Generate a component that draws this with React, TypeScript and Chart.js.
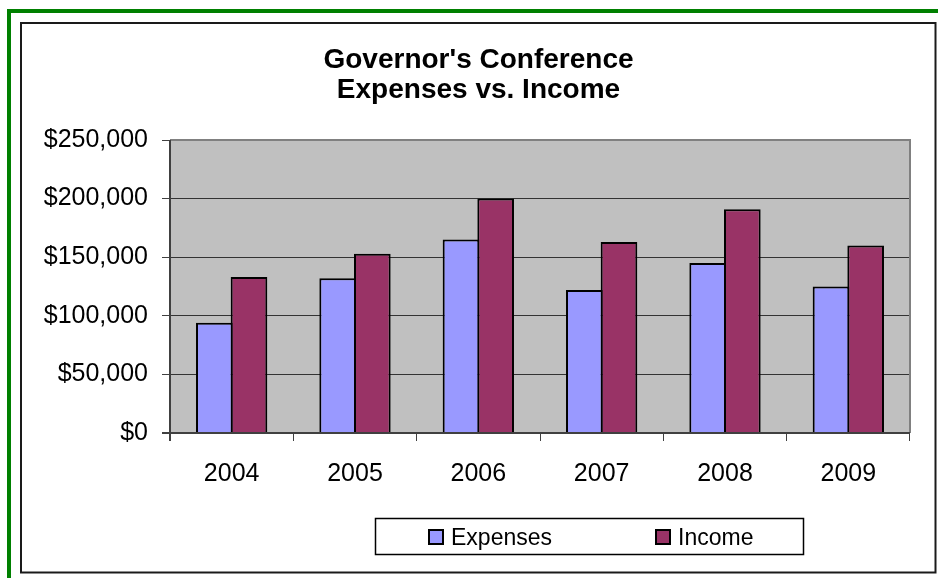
import React, { useEffect, useRef } from "react";
import { Chart, registerables } from "chart.js";
Chart.register(...registerables);

const categories = ["2004", "2005", "2006", "2007", "2008", "2009"];
const expenses = [94000, 132000, 165000, 122000, 145000, 125000];
const income = [133000, 153000, 200000, 163000, 191000, 160000];
const yTicks = [0, 50000, 100000, 150000, 200000, 250000];
const titleLines = ["Governor's Conference", "Expenses vs. Income"];
const seriesNames = ["Expenses", "Income"];
const seriesColors = ["#9999FF", "#993366"];

const FONT = "'Liberation Sans', Arial, Helvetica, sans-serif";

const framePlugin = {
  id: "frame",
  afterLayout(chart: any) {
    const t = chart.titleBlock;
    if (t) {
      t.left = 21;
      t.right = 936;
      t.width = 915;
    }
  },
  beforeDraw(chart: any) {
    const { ctx, chartArea: a } = chart;
    ctx.save();
    ctx.fillStyle = "#ffffff";
    ctx.fillRect(0, 0, chart.width, chart.height);
    ctx.fillStyle = "#008000";
    ctx.fillRect(7, 9, 4, chart.height);
    ctx.fillRect(7, 9, chart.width, 4);
    ctx.strokeStyle = "#1a1a1a";
    ctx.lineWidth = 2;
    ctx.strokeRect(21, 23, 914.5, 549.5);
    ctx.fillStyle = "#C0C0C0";
    ctx.fillRect(a.left, a.top, a.right - a.left, a.bottom - a.top);
    ctx.restore();
  },
  afterDatasetsDraw(chart: any) {
    const { ctx, chartArea: a } = chart;
    ctx.save();
    ctx.strokeStyle = "#808080";
    ctx.lineWidth = 2;
    ctx.beginPath();
    ctx.moveTo(a.left, a.top);
    ctx.lineTo(a.right, a.top);
    ctx.lineTo(a.right, a.bottom);
    ctx.stroke();
    ctx.strokeStyle = "#404040";
    ctx.beginPath();
    ctx.moveTo(a.left - 8, a.bottom);
    ctx.lineTo(a.right, a.bottom);
    ctx.moveTo(a.left, a.top);
    ctx.lineTo(a.left, a.bottom + 8);
    ctx.stroke();
    ctx.restore();
  },
  afterDraw(chart: any) {
    const { ctx } = chart;
    ctx.save();
    ctx.strokeStyle = "#000";
    ctx.lineWidth = 1.5;
    ctx.strokeRect(375.5, 518.5, 428, 36);
    const xs = [428, 655];
    ctx.font = `23px ${FONT}`;
    ctx.textBaseline = "alphabetic";
    ctx.textAlign = "left";
    chart.data.datasets.forEach((ds: any, i: number) => {
      const x = xs[i];
      ctx.fillStyle = ds.backgroundColor;
      ctx.fillRect(x + 1, 530, 14, 14);
      ctx.lineWidth = 2;
      ctx.strokeStyle = "#000";
      ctx.strokeRect(x + 1, 530, 14, 14);
      ctx.fillStyle = "#000";
      ctx.fillText(ds.label, x + 23, 545);
    });
    ctx.restore();
  },
};

export default function App() {
  const ref = useRef<HTMLCanvasElement>(null);
  useEffect(() => {
    if (!ref.current) return;
    const chart = new Chart(ref.current, {
      type: "bar",
      data: {
        labels: categories,
        datasets: [
          {
            label: seriesNames[0],
            data: expenses,
            backgroundColor: seriesColors[0],
            borderColor: "#000",
            borderWidth: 2,
          },
          {
            label: seriesNames[1],
            data: income,
            backgroundColor: seriesColors[1],
            borderColor: "#000",
            borderWidth: 2,
          },
        ],
      },
      plugins: [framePlugin],
      options: {
        animation: false,
        responsive: false,
        devicePixelRatio: 1,
        datasets: {
          bar: { categoryPercentage: 0.562, barPercentage: 1.0577 },
        } as any,
        layout: { padding: { left: 20, right: 28, top: 22, bottom: 85 } },
        plugins: {
          legend: { display: false },
          tooltip: { enabled: false },
          title: {
            display: true,
            text: titleLines,
            color: "#000",
            font: { family: FONT, size: 28, weight: "bold", lineHeight: 30 / 28 },
            padding: { top: 23.5, bottom: 34.5 },
          },
        },
        scales: {
          x: {
            offset: true,
            grid: {
              offset: true,
              drawOnChartArea: false,
              drawTicks: true,
              tickLength: 8,
              tickColor: "#404040",
              lineWidth: 1,
            },
            border: { display: false },
            ticks: {
              color: "#000",
              font: { family: FONT, size: 25 },
              padding: 18,
              maxRotation: 0,
            },
            afterFit: (s: any) => {
              s.height = 60;
            },
          },
          y: {
            min: 0,
            max: 250000,
            grid: {
              color: "#333333",
              lineWidth: 1,
              drawTicks: true,
              tickLength: 8,
              tickColor: "#404040",
            },
            border: { display: false },
            ticks: {
              color: "#000",
              font: { family: FONT, size: 25 },
              padding: 14,
              callback: (v: any) => "$" + Number(v).toLocaleString("en-US"),
            },
            afterBuildTicks: (s: any) => {
              s.ticks = yTicks.map((v) => ({ value: v }));
            },
            afterFit: (s: any) => {
              s.width = 150;
            },
          },
        },
      },
    });
    return () => chart.destroy();
  }, []);
  return (
    <div style={{ position: "fixed", left: 0, top: 0, width: 938, height: 578 }}>
      <canvas ref={ref} width={938} height={578} style={{ width: 938, height: 578 }} />
    </div>
  );
}
